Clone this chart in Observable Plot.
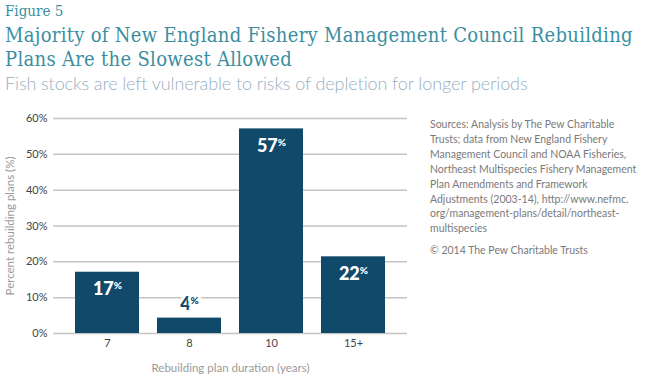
<!DOCTYPE html>
<html><head><meta charset="utf-8">
<script src="https://cdn.jsdelivr.net/npm/d3@7"></script>
<script src="https://cdn.jsdelivr.net/npm/@observablehq/plot@0.6"></script>
<style>
body{margin:0;background:#fff;width:650px;height:380px;position:relative;overflow:hidden;font-family:Lato,"Open Sans",sans-serif;}
.abs{position:absolute;white-space:nowrap;}
#fig{left:5px;top:2px;font-family:"DejaVu Serif";font-stretch:condensed;font-size:15px;color:#3a8ea0;line-height:18px;}
.title{left:5px;font-family:"DejaVu Serif";font-stretch:condensed;font-size:20px;color:#3a8ea0;line-height:23.5px;height:23.5px;letter-spacing:0.3px;}
#t1{top:24px;}
#t2{top:47.5px;}
#sub{left:5px;top:72px;font-family:Lato,sans-serif;font-weight:300;font-size:18px;letter-spacing:-0.1px;color:#98afbf;line-height:22px;}
#chart{left:0;top:100px;}
#src{left:430px;top:117px;font-size:10.5px;line-height:14.9px;color:#7a7a7a;}
#copy{left:430px;top:244px;font-size:10.5px;color:#7a7a7a;}
</style></head>
<body>
<div class="abs" id="fig">Figure 5</div>
<div class="abs title" id="t1">Majority of New England Fishery Management Council Rebuilding</div>
<div class="abs title" id="t2">Plans Are the Slowest Allowed</div>
<div class="abs" id="sub">Fish stocks are left vulnerable to risks of depletion for longer periods</div>
<div class="abs" id="chart"></div>
<div class="abs" id="src">Sources: Analysis by The Pew Charitable<br>Trusts; data from New England Fishery<br>Management Council and NOAA Fisheries,<br>Northeast Multispecies Fishery Management<br>Plan Amendments and Framework<br>Adjustments (2003-14), http://www.nefmc.<br>org/management-plans/detail/northeast-<br>multispecies</div>
<div class="abs" id="copy">© 2014 The Pew Charitable Trusts</div>
<script>
const durations = ["7", "8", "10", "15+"];
const shares = [17.1, 4.3, 57.1, 21.4];
const shareLabels = ["17", "4", "57", "22"];
const yTicks = [0, 10, 20, 30, 40, 50, 60];

const data = durations.map((d, i) => ({d, v: shares[i], lab: shareLabels[i]}));
const inside = data.filter(r => r.v >= 10);
const outside = data.filter(r => r.v < 10);
const barColor = "#11496a";

const chart = Plot.plot({
  width: 420, height: 280,
  marginTop: 18, marginBottom: 47, marginLeft: 53, marginRight: 13,
  style: {fontFamily: "Lato, 'Open Sans', sans-serif", fontSize: "11px", color: "#444", background: "transparent"},
  x: {domain: durations, paddingInner: 0.216, paddingOuter: 0.257},
  y: {domain: [0, 60]},
  marks: [
    Plot.gridY(yTicks, {stroke: "#c4c4c4", strokeOpacity: 1, strokeWidth: 1.5}),
    Plot.axisY(yTicks, {tickSize: 0, tickPadding: 6, tickFormat: d => d + "%", fill: "#444",
      label: "Percent rebuilding plans (%)", labelAnchor: "center", labelArrow: "none", labelOffset: 48}),
    Plot.axisX({tickSize: 0, tickPadding: 6, fill: "#444",
      label: "Rebuilding plan duration (years)", labelAnchor: "center", labelArrow: "none", labelOffset: 38}),
    Plot.barY(data, {x: "d", y: "v", fill: barColor}),
    Plot.text(inside, {x: "d", y: "v", text: "lab", dy: 23, lineAnchor: "bottom", fill: "white",
      fontSize: 18, fontWeight: 900, className: "lab"}),
    Plot.text(outside, {x: "d", y: "v", text: "lab", dy: -8, lineAnchor: "bottom", fill: barColor,
      stroke: "white", strokeWidth: 6, paintOrder: "stroke", fontSize: 18, fontWeight: 900, className: "lab"})
  ]
});
document.getElementById("chart").appendChild(chart);
chart.querySelectorAll("g.lab text").forEach(t => {
  const ts = document.createElementNS("http://www.w3.org/2000/svg", "tspan");
  ts.textContent = "%";
  ts.setAttribute("font-size", "10");
  ts.setAttribute("dy", "-6");
  t.appendChild(ts);
});
chart.querySelectorAll("[aria-label='y-axis label'] text, [aria-label='x-axis label'] text").forEach(t => {
  t.setAttribute("fill", "#9a9a9a");
  t.style.fontSize = "11.5px";
});
</script>
</body></html>
